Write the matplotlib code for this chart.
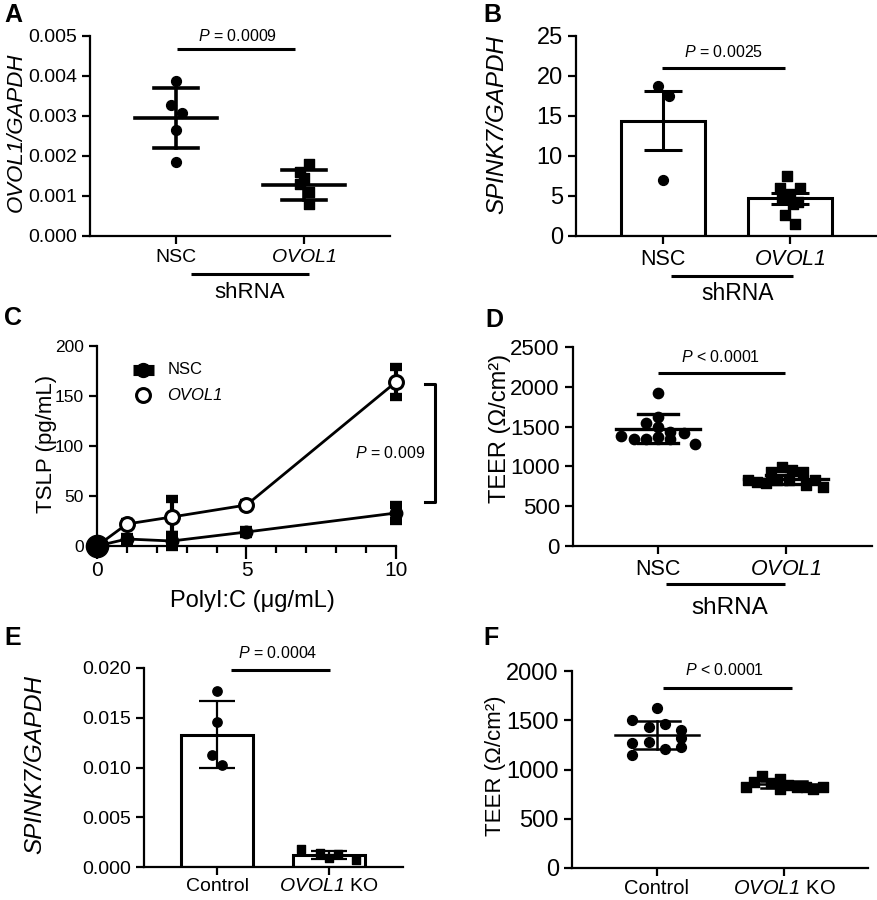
import numpy as np
import matplotlib
matplotlib.use("Agg")
import matplotlib.pyplot as plt
from matplotlib.lines import Line2D

plt.rcParams['font.family'] = ['Liberation Sans', 'DejaVu Sans']
plt.rcParams['mathtext.fontset'] = 'custom'
plt.rcParams['mathtext.rm'] = 'Liberation Sans:italic'
plt.rcParams['mathtext.it'] = 'Liberation Sans:italic'
plt.rcParams['mathtext.bf'] = 'Liberation Sans:bold'

W, H = 878, 900

# ---------------- DATA ----------------
# Panel A: OVOL1/GAPDH
a_groups = ["NSC", "$OVOL1$"]
a_nsc = [0.00388, 0.00327, 0.00308, 0.00265, 0.00185]
a_nsc_jit = [0.0, -0.04, 0.045, 0.0, 0.0]
a_ovol = [0.0018, 0.0016, 0.00144, 0.00129, 0.00111, 0.0008]
a_ovol_jit = [0.04, -0.03, 0.0, -0.03, 0.04, 0.04]
a_mean = [0.00295, 0.00127]
a_sd = [0.00074, 0.00038]

# Panel B: SPINK7/GAPDH
b_groups = ["NSC", "$OVOL1$"]
b_nsc = [18.8, 17.5, 7.0]
b_nsc_jit = [-0.04, 0.045, 0.0]
b_ovol = [7.5, 6.0, 6.0, 5.3, 4.6, 4.3, 4.0, 2.6, 1.5]
b_ovol_jit = [-0.02, -0.08, 0.08, 0.0, -0.06, 0.06, 0.02, -0.04, 0.04]
b_mean = [14.4, 4.7]
b_err = [3.7, 0.65]

# Panel C: TSLP vs PolyI:C
c_dose = [0, 1, 2.5, 5, 10]
c_nsc = [0, 7, 5, 14, 33]
c_nsc_err = [0, 2, 6, 2, 8]
c_ovol = [0, 22, 29, 41, 164]
c_ovol_err = [0, 2, 18, 2, 15]

# Panel D: TEER shRNA
d_groups = ["NSC", "$OVOL1$"]
d_nsc = [1923, 1547, 1622, 1380, 1338, 1338, 1371, 1338, 1421, 1279, 1430, 1497]
d_nsc_jit = [0.0, -0.09, 0.0, -0.29, -0.19, -0.09, 0.0, 0.09, 0.2, 0.29, 0.09, 0.0]
d_ovol = [828, 786, 932, 995, 953, 932, 828, 828, 765, 828, 744, 807]
d_ovol_jit = [-0.3, -0.16, -0.12, -0.03, 0.05, 0.13, -0.07, 0.02, 0.16, 0.23, 0.29, -0.23]
d_mean = [1476, 840]
d_sd = [182, 55]

# Panel E: SPINK7/GAPDH KO
e_groups = ["Control", "$OVOL1$ KO"]
e_ctrl = [0.0177, 0.01457, 0.01122, 0.0103]
e_ctrl_jit = [0.0, 0.0, -0.045, 0.045]
e_ko = [0.00184, 0.00144, 0.00134, 0.00074, 0.0009]
e_ko_jit = [-0.25, -0.08, 0.08, 0.24, 0.0]
e_mean = [0.0133, 0.00124]
e_err = [0.0034, 0.0004]

# Panel F: TEER KO
f_groups = ["Control", "$OVOL1$ KO"]
f_ctrl = [1623, 1504, 1430, 1457, 1396, 1265, 1282, 1315, 1207, 1224, 1147]
f_ctrl_jit = [0.0, -0.2, -0.06, 0.06, 0.19, -0.2, -0.06, 0.19, 0.06, 0.19, -0.2]
f_ko = [826, 877, 934, 860, 900, 799, 843, 820, 820, 799, 826]
f_ko_jit = [-0.3, -0.24, -0.17, -0.1, -0.03, -0.03, 0.03, 0.1, 0.17, 0.23, 0.31]
f_mean = [1349, 848]
f_sd = [142, 35]

# ---------------- HELPERS ----------------
fig = plt.figure(figsize=(W / 100, H / 100), dpi=100)


def fx(px):
    return px / W


def fy(py):
    return 1 - py / H


def add_ax(x0, x1, ytop, ybot):
    ax = fig.add_axes([fx(x0), fy(ybot), (x1 - x0) / W, (ybot - ytop) / H])
    for s in ['top', 'right']:
        ax.spines[s].set_visible(False)
    for s in ['left', 'bottom']:
        ax.spines[s].set_linewidth(1.6)
    ax.tick_params(direction='out', length=6, width=1.6, colors='black')
    ax.patch.set_alpha(0)
    return ax


def ftext(px, py, s, size, **kw):
    fig.text(fx(px), fy(py), s, fontsize=size, ha=kw.pop('ha', 'center'),
             va=kw.pop('va', 'center'), **kw)


def fline(x0, x1, y0, y1, lw=2.2):
    fig.add_artist(Line2D([fx(x0), fx(x1)], [fy(y0), fy(y1)], color='black',
                          lw=lw, solid_capstyle='butt'))


def mean_sd(ax, pos, mean, sd, half_m=0.32, half_c=0.17, lw=2.2):
    for p, m, s in zip(pos, mean, sd):
        ax.plot([p - half_m, p + half_m], [m, m], color='k', lw=lw, zorder=4)
        ax.plot([p, p], [m - s, m + s], color='k', lw=lw, zorder=4)
        for yv in (m - s, m + s):
            ax.plot([p - half_c, p + half_c], [yv, yv], color='k', lw=lw, zorder=4)


def sig(ax, x0, x1, y, tx, ty, label, size=11.5):
    ax.plot([x0, x1], [y, y], color='k', lw=2.2, clip_on=False, solid_capstyle='butt')
    ax.text(tx, ty, label, ha='center', va='center', fontsize=size, clip_on=False)


# ---------------- PANEL A ----------------
ax = add_ax(90, 390, 36, 236)
ax.set_ylim(0, 0.005)
ax.set_xlim(-0.672, 1.672)
ax.set_yticks([0, 0.001, 0.002, 0.003, 0.004, 0.005])
ax.set_yticklabels([f"{v:.3f}" for v in [0, 0.001, 0.002, 0.003, 0.004, 0.005]], fontsize=14)
ax.set_xticks([0, 1])
ax.set_xticklabels(a_groups, fontsize=14)
ax.scatter(np.zeros(len(a_nsc)) + a_nsc_jit, a_nsc, s=50, c='k', marker='o', zorder=5, clip_on=False)
ax.scatter(np.ones(len(a_ovol)) + a_ovol_jit, a_ovol, s=45, c='k', marker='s', zorder=5, clip_on=False)
mean_sd(ax, [0, 1], a_mean, a_sd, lw=2.6)
sig(ax, 0.01, 0.93, 0.00468, 0.48, 0.00500, "$P$ = 0.0009")
ftext(16, 132, "OVOL1/GAPDH", 16, rotation=90, style='italic')
fline(191, 309, 274, 274)
ftext(250, 292, "shRNA", 16)
ftext(4, 15, "A", 18, ha='left', fontweight='bold')

# ---------------- PANEL B ----------------
ax = add_ax(576, 877, 36, 236)
ax.set_ylim(0, 25)
ax.set_xlim(-0.685, 1.685)
ax.set_yticks([0, 5, 10, 15, 20, 25])
ax.set_yticklabels(["0", "5", "10", "15", "20", "25"], fontsize=17)
ax.set_xticks([0, 1])
ax.set_xticklabels(b_groups, fontsize=15.5)
ax.bar([0, 1], b_mean, width=0.66, color='white', edgecolor='k', linewidth=2.2, zorder=2)
ax.errorbar([0, 1], b_mean, yerr=b_err, fmt='none', ecolor='k', elinewidth=2.2,
            capsize=14, capthick=2.2, zorder=4)
ax.scatter(np.zeros(len(b_nsc)) + b_nsc_jit, b_nsc, s=50, c='k', marker='o', zorder=5)
ax.scatter(np.ones(len(b_ovol)) + b_ovol_jit, b_ovol, s=45, c='k', marker='s', zorder=5)
sig(ax, -0.01, 0.96, 21.0, 0.48, 23.0, "$P$ = 0.0025")
ftext(497, 125, "SPINK7/GAPDH", 17.5, rotation=90, style='italic')
fline(671, 793, 276, 276)
ftext(738, 294, "shRNA", 16.5)
ftext(483, 15, "B", 18, ha='left', fontweight='bold')

# ---------------- PANEL C ----------------
ax = add_ax(97, 396, 346, 546)
ax.set_ylim(0, 200)
ax.set_xlim(0, 10)
ax.set_yticks([0, 50, 100, 150, 200])
ax.set_yticklabels(["0", "50", "100", "150", "200"], fontsize=12.5)
ax.set_xticks([0, 5, 10])
ax.set_xticklabels(["0", "5", "10"], fontsize=15)
ax.set_xticks(np.arange(0, 11, 1), minor=True)
ax.tick_params(axis='x', which='major', length=9, width=1.6, pad=2)
ax.tick_params(axis='x', which='minor', length=5, width=1.6)
ax.errorbar(c_dose, c_nsc, yerr=c_nsc_err, fmt='none', ecolor='k',
            elinewidth=3, capsize=4.5, capthick=6, zorder=3, clip_on=False)
ax.errorbar(c_dose, c_ovol, yerr=c_ovol_err, fmt='none', ecolor='k',
            elinewidth=3, capsize=4.5, capthick=6, zorder=3, clip_on=False)
ax.plot(c_dose, c_nsc, 'o-', color='k', ms=9, lw=2, zorder=4, clip_on=False)
ax.plot(c_dose, c_ovol, 'o-', color='k', mfc='white', mec='k', mew=2.2, ms=10,
        lw=2, zorder=5, clip_on=False)
ax.plot(c_dose[:1], c_nsc[:1], 'o', color='k', ms=16, zorder=6, clip_on=False)
# bracket
ax.plot([10.97, 11.3, 11.3, 10.97], [162, 162, 44, 44], color='k', lw=2.2, clip_on=False)
ax.text(9.8, 93, "$P$ = 0.009", ha='center', va='center', fontsize=11.5, clip_on=False)
# legend
ax.plot([0.12, 0.19], [0.88, 0.88], transform=ax.transAxes, color='k', lw=8,
        solid_capstyle='butt', clip_on=False)
ax.plot([0.155], [0.88], 'o', transform=ax.transAxes, color='k', ms=10, clip_on=False)
ax.plot([0.155], [0.755], 'o', transform=ax.transAxes, color='k', mfc='white', mew=2.2,
        ms=10, clip_on=False)
ax.text(0.235, 0.88, "NSC", transform=ax.transAxes, ha='left', va='center', fontsize=12)
ax.text(0.235, 0.755, "OVOL1", transform=ax.transAxes, ha='left', va='center',
        fontsize=12, style='italic')
ftext(47, 444, "TSLP (pg/mL)", 16, rotation=90)
ftext(252, 601, "PolyI:C (μg/mL)", 17)
ftext(4, 318, "C", 18, ha='left', fontweight='bold')

# ---------------- PANEL D ----------------
ax = add_ax(573, 872, 347, 546)
ax.set_ylim(0, 2500)
ax.set_xlim(-0.664, 1.672)
ax.set_yticks([0, 500, 1000, 1500, 2000, 2500])
ax.set_yticklabels(["0", "500", "1000", "1500", "2000", "2500"], fontsize=16)
ax.set_xticks([0, 1])
ax.set_xticklabels(d_groups, fontsize=15.5)
ax.scatter(np.zeros(len(d_nsc)) + d_nsc_jit, d_nsc, s=55, c='k', marker='o', zorder=5)
ax.scatter(np.ones(len(d_ovol)) + d_ovol_jit, d_ovol, s=55, c='k', marker='s', zorder=5)
mean_sd(ax, [0, 1], d_mean, d_sd, half_m=0.33, half_c=0.16, lw=2.4)
sig(ax, 0.0, 0.99, 2174, 0.49, 2375, "$P$ < 0.0001")
ftext(500, 428, "TEER (Ω/cm²)", 17, rotation=90)
fline(666, 785, 584, 584)
ftext(730, 608, "shRNA", 17.5)
ftext(485, 320, "D", 18, ha='left', fontweight='bold')

# ---------------- PANEL E ----------------
ax = add_ax(144, 403, 668, 867)
ax.set_ylim(0, 0.02)
ax.set_xlim(-0.652, 1.66)
ax.set_yticks([0, 0.005, 0.01, 0.015, 0.02])
ax.set_yticklabels([f"{v:.3f}" for v in [0, 0.005, 0.01, 0.015, 0.02]], fontsize=14)
ax.set_xticks([0, 1])
ax.set_xticklabels(e_groups, fontsize=14)
ax.tick_params(axis='x', pad=2)
ax.bar([0, 1], e_mean, width=0.64, color='white', edgecolor='k', linewidth=2.2, zorder=2)
ax.errorbar([0, 1], e_mean, yerr=e_err, fmt='none', ecolor='k', elinewidth=1.6,
            capsize=13, capthick=1.6, zorder=4)
ax.scatter(np.zeros(len(e_ctrl)) + e_ctrl_jit, e_ctrl, s=45, c='k', marker='o', zorder=5)
ax.scatter(np.ones(len(e_ko)) + e_ko_jit, e_ko, s=40, c='k', marker='s', zorder=5)
sig(ax, 0.125, 1.01, 0.01977, 0.54, 0.0215, "$P$ = 0.0004")
ftext(35, 765, "SPINK7/GAPDH", 17.5, rotation=90, style='italic')
ftext(4, 638, "E", 18, ha='left', fontweight='bold')

# ---------------- PANEL F ----------------
ax = add_ax(572, 868, 671, 868)
ax.set_ylim(0, 2000)
ax.set_xlim(-0.669, 1.661)
ax.set_yticks([0, 500, 1000, 1500, 2000])
ax.set_yticklabels(["0", "500", "1000", "1500", "2000"], fontsize=17)
ax.set_xticks([0, 1])
ax.set_xticklabels(f_groups, fontsize=14.5)
ax.tick_params(axis='x', pad=2)
ax.scatter(np.zeros(len(f_ctrl)) + f_ctrl_jit, f_ctrl, s=50, c='k', marker='o', zorder=5)
ax.scatter(np.ones(len(f_ko)) + f_ko_jit, f_ko, s=50, c='k', marker='s', zorder=5)
mean_sd(ax, [0, 1], f_mean, f_sd, half_m=0.33, half_c=0.18, lw=1.8)
sig(ax, 0.05, 1.06, 1828, 0.53, 2010, "$P$ < 0.0001")
ftext(495, 766, "TEER (Ω/cm²)", 16, rotation=90)
ftext(483, 638, "F", 18, ha='left', fontweight='bold')

fig.savefig("out.png", dpi=100)
